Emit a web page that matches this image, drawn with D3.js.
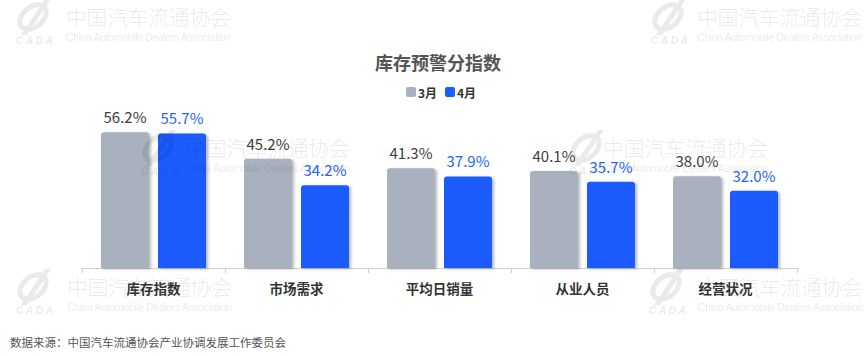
<!DOCTYPE html>
<html><head><meta charset="utf-8">
<script src="https://cdn.jsdelivr.net/npm/d3@7"></script>
<style>
html,body{margin:0;padding:0;background:#fff;}
svg{display:block;font-family:"Noto Sans CJK SC","Noto Sans",sans-serif;}
</style></head>
<body>
<svg id="chart" width="865" height="356"></svg>
<script>
const title = "库存预警分指数";
const categories = ["库存指数", "市场需求", "平均日销量", "从业人员", "经营状况"];
const seriesNames = ["3月", "4月"];
const march = [56.2, 45.2, 41.3, 40.1, 38.0];
const april = [55.7, 34.2, 37.9, 35.7, 32.0];
const yDomain = [0, 60];
const source = "数据来源：中国汽车流通协会产业协调发展工作委员会";
const colors = ["#a8b1bd", "#1a5cff"];
const labelColors = ["#3d3d3d", "#2563ff"];

const svg = d3.select("#chart");
const defs = svg.append("defs");
const f = defs.append("filter").attr("id","sh").attr("x","-20%").attr("y","-20%").attr("width","150%").attr("height","150%");
f.append("feDropShadow").attr("dx",2).attr("dy",1).attr("stdDeviation",1.5).attr("flood-color","#000").attr("flood-opacity",0.28);

const x0 = d3.scaleBand().domain(categories).range([82, 797]).paddingInner(0).paddingOuter(0);
const x1 = d3.scaleBand().domain(seriesNames).range([0, x0.bandwidth()]).paddingInner(0.158).paddingOuter(0.333);
const y = d3.scaleLinear().domain(yDomain).range([268, 123]);

// watermarks (drawn first for text, overlay semi-transparent)
function watermark(parent, lx, tx, ty){
  const g = parent.append("g");
  const lg = g.append("g").attr("transform", `translate(${lx},${ty-8})`);
  lg.append("ellipse").attr("cx", 18).attr("cy", 18).attr("rx", 15).attr("ry", 10)
    .attr("transform", "rotate(-40 18 18)").attr("fill", "none").attr("stroke", "#000").attr("stroke-width", 5);
  lg.append("path").attr("d", "M30,0 L36,0 L12,36 L6,36 Z");
  lg.append("text").attr("x", 1).attr("y", 45).attr("font-size", 10).attr("font-weight", 700)
    .attr("font-style", "italic").attr("font-family", "Liberation Sans, sans-serif").attr("textLength", 37).text("CADA");
  g.append("text").attr("x", tx).attr("y", ty + 18).attr("font-size", 21).attr("textLength", 165)
    .attr("font-family", "Noto Sans CJK SC").attr("font-weight", 300).text("中国汽车流通协会");
  g.append("text").attr("x", tx).attr("y", ty + 34).attr("font-size", 10.5).attr("textLength", 165)
    .attr("font-family", "Liberation Sans, Arial, sans-serif").text("China Automobile Dealers Association");
}

// title
svg.append("text").attr("x", 438).attr("y", 70).attr("text-anchor","middle")
  .attr("font-size", 18).attr("font-weight", 700).attr("fill", "#555").text(title);

// legend
const legX = [406, 445];
seriesNames.forEach((s,i)=>{
  svg.append("rect").attr("x", legX[i]).attr("y", 87).attr("width", 10).attr("height", 10).attr("rx", 2).attr("fill", colors[i]);
  svg.append("text").attr("x", legX[i]+12).attr("y", 97.5).attr("font-size", 12).attr("font-weight", 700).attr("fill", "#333").text(s);
});

// axis
const axisG = svg.append("g").attr("transform", "translate(0,268)");
axisG.append("line").attr("x1", 82).attr("x2", 797).attr("y1", 0.5).attr("y2", 0.5).attr("stroke", "#cfcfcf").attr("stroke-width", 1.2);
const ticks = categories.map(c => x0(c)).concat([x0.range()[1]]);
axisG.selectAll("line.t").data(ticks).enter().append("line").attr("class","t")
  .attr("x1", d=>d+0.5).attr("x2", d=>d+0.5).attr("y1", 0).attr("y2", 5).attr("stroke", "#cfcfcf").attr("stroke-width",1.2);
axisG.selectAll("text.c").data(categories).enter().append("text").attr("class","c")
  .attr("x", d => x0(d) + x0.bandwidth()/2).attr("y", 26).attr("text-anchor","middle")
  .attr("font-size", 13.5).attr("font-weight", 700).attr("fill", "#333").text(d=>d);

// bars
function topRounded(x, yTop, w, h, r){
  return `M${x},${yTop+h}V${yTop+r}Q${x},${yTop} ${x+r},${yTop}H${x+w-r}Q${x+w},${yTop} ${x+w},${yTop+r}V${yTop+h}Z`;
}
const series = [march, april];
series.forEach((vals, si) => {
  const g = svg.append("g");
  g.selectAll("path").data(vals).enter().append("path")
    .attr("d", (d,i) => {
      const bx = x0(categories[i]) + x1(seriesNames[si]);
      return topRounded(bx, y(d), x1.bandwidth(), y(0) - y(d), 3);
    })
    .attr("fill", colors[si]).attr("filter", "url(#sh)");
  g.selectAll("text").data(vals).enter().append("text")
    .attr("x", (d,i) => x0(categories[i]) + x1(seriesNames[si]) + x1.bandwidth()/2)
    .attr("y", d => y(d) - 9).attr("text-anchor", "middle")
    .attr("font-size", 15).attr("fill", labelColors[si]).text(d => d.toFixed(1) + "%");
});

// source
svg.append("text").attr("x", 10).attr("y", 346.5).attr("font-size", 11.5).attr("fill", "#555").text(source);

const wm = svg.append("g").attr("fill", "#000").attr("opacity", 0.085).attr("pointer-events","none");
watermark(wm, 15, 66, 7);
watermark(wm, 650, 697, 7);
watermark(wm, 140, 185, 138);
watermark(wm, 568, 603, 138);
watermark(wm, 15, 67, 277);
watermark(wm, 648, 698, 277);
</script>
</body></html>
